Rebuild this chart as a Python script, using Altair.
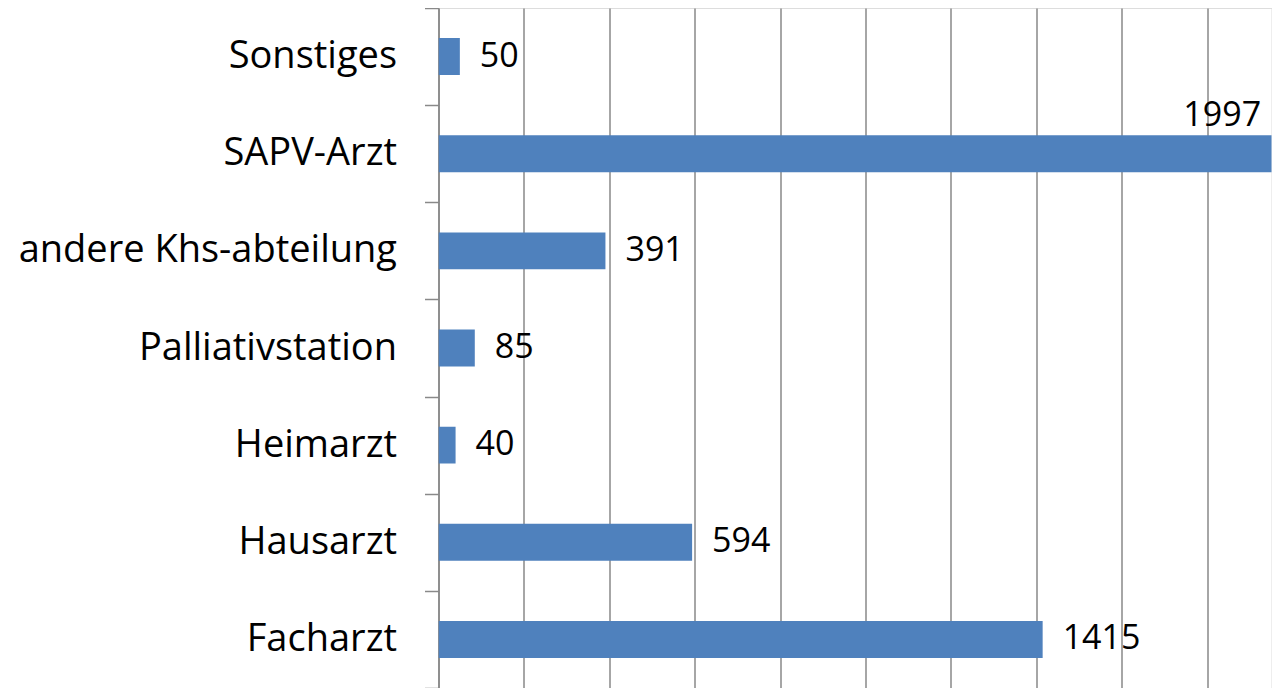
import altair as alt
import pandas as pd

categories = ["Sonstiges", "SAPV-Arzt", "andere Khs-abteilung", "Palliativstation",
              "Heimarzt", "Hausarzt", "Facharzt"]
values = [50, 1997, 391, 85, 40, 594, 1415]
grid_values = [0, 200, 400, 600, 800, 1000, 1200, 1400, 1600, 1800]

df = pd.DataFrame({"category": categories, "value": values})

FONT = "Open Sans"
GRAY = "#898989"

y_enc = alt.Y(
    "category:N",
    sort=categories,
    title=None,
    scale=alt.Scale(paddingInner=0, paddingOuter=0),
    axis=alt.Axis(
        tickBand="extent",
        tickSize=14,
        tickColor=GRAY,
        tickWidth=1.5,
        domainColor=GRAY,
        domainWidth=1.5,
        labelFontSize=38,
        labelFont=FONT,
        labelColor="#000000",
        labelPadding=28,
        grid=False,
        labelLimit=500,
    ),
)

x_enc = alt.X(
    "value:Q",
    title=None,
    scale=alt.Scale(domain=[0, 1951], nice=False, zero=True),
    axis=alt.Axis(
        values=grid_values,
        grid=True,
        gridColor=GRAY,
        gridWidth=1.5,
        labels=False,
        ticks=False,
        domain=False,
    ),
)

base = alt.Chart(df).encode(y=y_enc)

bars = base.mark_bar(
    color="#4F81BD", clip=True, height=alt.RelativeBandSize(0.38)
).encode(x=x_enc)

labels = base.transform_filter("datum.value < 1900").mark_text(
    align="left", baseline="middle", dx=20, fontSize=34, font=FONT, color="#000000"
).encode(x=alt.X("value:Q"), text=alt.Text("value:Q"))

labels_top = base.transform_filter("datum.value >= 1900").mark_text(
    align="right", baseline="middle", dx=-30, dy=-38, fontSize=34, font=FONT, color="#000000"
).encode(x=alt.X("value:Q"), text=alt.Text("value:Q"))

chart = alt.layer(bars, labels, labels_top).properties(
    width=833,
    height=680,
    autosize=alt.AutoSizeParams(type="none"),
    padding={"left": 430.5, "top": 0, "right": 0, "bottom": 0},
).configure_view(stroke=None).configure(background="white")

chart.save("out.html", embed_options={"renderer": "svg", "actions": False})
